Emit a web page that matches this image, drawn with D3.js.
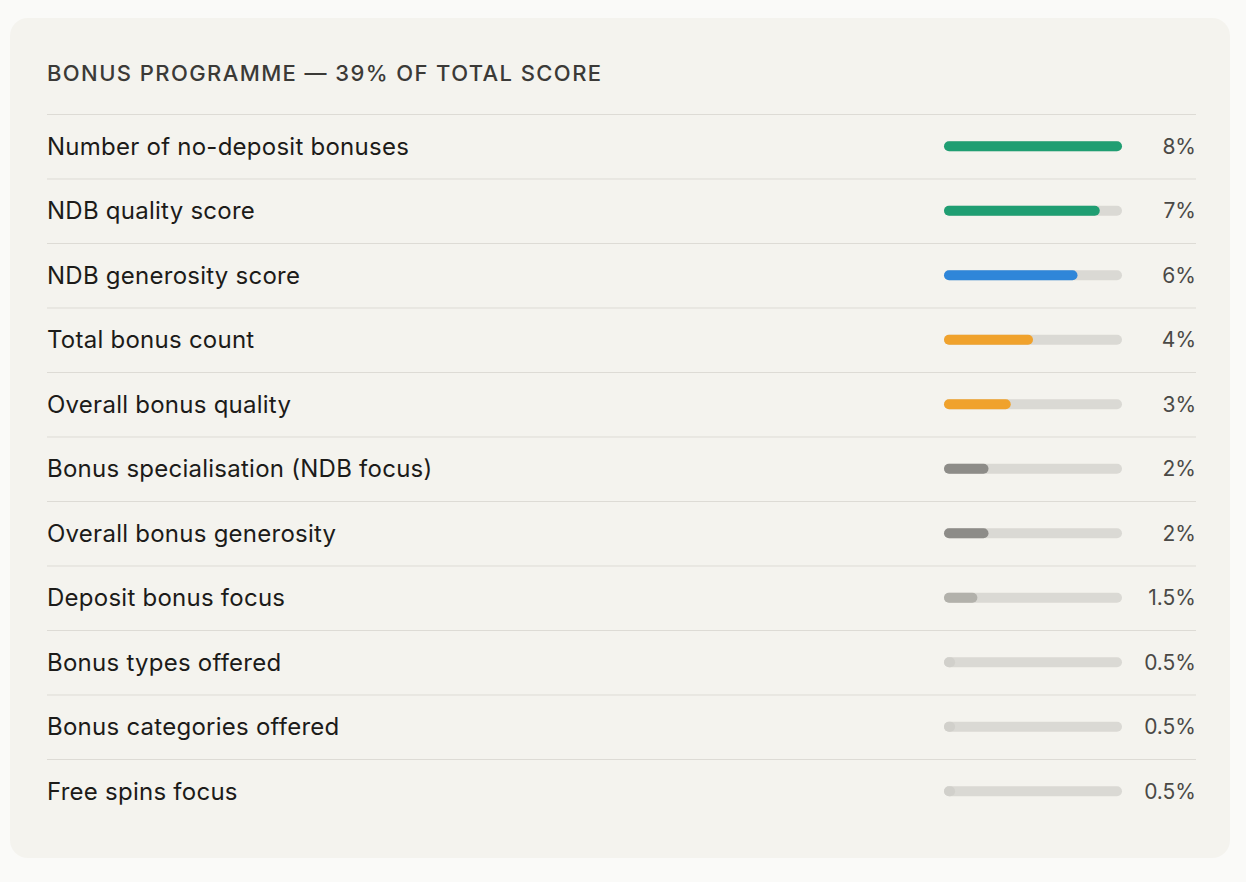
<!DOCTYPE html>
<html>
<head>
<meta charset="utf-8">
<script src="https://cdn.jsdelivr.net/npm/d3@7"></script>
<style>
  html, body { margin: 0; padding: 0; background: #fafaf8; }
  svg { display: block; font-family: Inter, "Noto Sans", sans-serif; }
</style>
</head>
<body>
<div id="chart"></div>
<script>
var title = "BONUS PROGRAMME — 39% OF TOTAL SCORE";

var factors = [
  "Number of no-deposit bonuses",
  "NDB quality score",
  "NDB generosity score",
  "Total bonus count",
  "Overall bonus quality",
  "Bonus specialisation (NDB focus)",
  "Overall bonus generosity",
  "Deposit bonus focus",
  "Bonus types offered",
  "Bonus categories offered",
  "Free spins focus"
];

var weights = [8, 7, 6, 4, 3, 2, 2, 1.5, 0.5, 0.5, 0.5];

var maxWeight = 8;

function drawChart() {
  var width = 1246, height = 882;
  var container = d3.select("#chart");
  container.selectAll("*").remove();

  var svg = container.append("svg")
    .attr("width", width)
    .attr("height", height);

  // card
  svg.append("rect")
    .attr("x", 10)
    .attr("y", 18)
    .attr("width", 1220)
    .attr("height", 840)
    .attr("rx", 18)
    .attr("fill", "#f4f3ee");

  var left = 47, right = 1196;
  var top = 114, rowH = 64.5;

  svg.append("text")
    .attr("x", left)
    .attr("y", 81)
    .style("font-size", "22px")
    .style("font-weight", 500)
    .style("letter-spacing", "1.4px")
    .style("fill", "#3b3a37")
    .text(title);

  var y = d3.scaleBand()
    .domain(factors)
    .range([top, top + rowH * factors.length]);

  var x = d3.scaleLinear()
    .domain([0, maxWeight])
    .range([944, 1122]);

  // colour tiers by weight
  var colour = d3.scaleThreshold()
    .domain([1, 1.75, 2.5, 5, 6.5])
    .range(["#d1d0cb", "#b2b1ab", "#8d8c88", "#f0a22c", "#2f86d9", "#1f9e72"]);

  var rows = svg.selectAll(".row")
    .data(factors)
    .enter()
    .append("g")
    .attr("class", "row")
    .attr("transform", function(d) { return "translate(0," + y(d) + ")"; });

  rows.append("line")
    .attr("x1", left)
    .attr("x2", right)
    .attr("y1", 0.5)
    .attr("y2", 0.5)
    .attr("stroke", "#dddbd5")
    .attr("stroke-width", 1);

  var mid = y.bandwidth() / 2;

  rows.append("text")
    .attr("x", left)
    .attr("y", mid)
    .attr("dy", "0.36em")
    .style("font-size", "24px")
    .style("letter-spacing", "0.25px")
    .style("fill", "#1c1b19")
    .text(function(d) { return d; });

  var barH = 10;

  rows.append("rect")
    .attr("x", x(0))
    .attr("y", mid - barH / 2)
    .attr("width", x(maxWeight) - x(0))
    .attr("height", barH)
    .attr("rx", barH / 2)
    .attr("fill", "#dad9d4");

  rows.append("rect")
    .attr("x", x(0))
    .attr("y", mid - barH / 2)
    .attr("width", function(d, i) { return x(weights[i]) - x(0); })
    .attr("height", barH)
    .attr("rx", barH / 2)
    .attr("fill", function(d, i) { return colour(weights[i]); });

  rows.append("text")
    .attr("x", right)
    .attr("y", mid)
    .attr("dy", "0.36em")
    .attr("text-anchor", "end")
    .style("font-size", "21px")
    .style("fill", "#4a4946")
    .text(function(d, i) { return weights[i] + "%"; });
}

drawChart();
</script>
</body>
</html>
